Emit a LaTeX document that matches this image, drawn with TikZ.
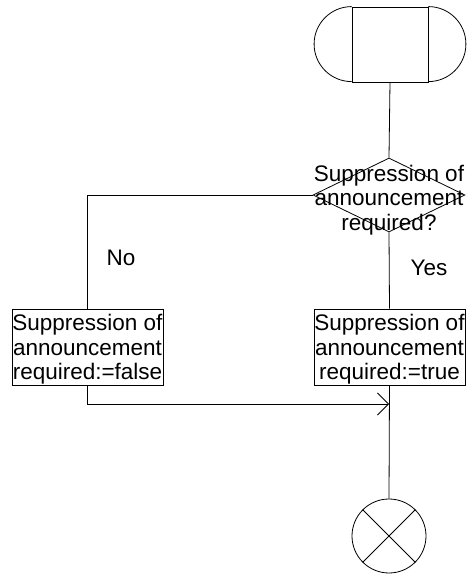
\documentclass[tikz,border=0pt]{standalone}
\usepackage{fontspec}
\setmainfont{Liberation Sans}
\usetikzlibrary{positioning,arrows.meta,shapes.geometric}

\begin{document}
\begin{tikzpicture}[x=1pt,y=1pt,line width=0.8pt,
  >={Straight Barb[length=11pt,width=22pt]},
  every node/.style={font=\fontsize{22.5}{24.5}\selectfont},
  action/.style={draw,minimum width=151pt,minimum height=76pt,inner sep=0pt,align=center,text depth=-5pt},
  decision/.style={draw,diamond,minimum width=152pt,minimum height=74pt,inner sep=0pt}]
\useasboundingbox (0,0) rectangle (473,576);
% start symbol
\node[draw,minimum width=76pt,minimum height=75pt,inner sep=0pt] (start) at (390,531.5) {};
\draw (start.north west) arc[start angle=90,end angle=270,radius=37.5pt];
\draw (start.north east) arc[start angle=90,end angle=-90,radius=37.5pt];
% decision
\node[decision] (query) at (389,381) {};
\node[align=center,yshift=-5pt] (querytext) at (query.center) {Suppression of\\announcement\\required?};
% actions
\node[action] (setfalse) at (87.5,229) {Suppression of\\announcement\\required:=false};
\node[action] (settrue) at (389.5,229) {Suppression of\\announcement\\required:=true};
% end symbol
\node[draw,circle,minimum size=74pt,inner sep=0pt] (stop) at (389,40) {};
\draw (stop.north west) -- (stop.south east);
\draw (stop.north east) -- (stop.south west);
\coordinate (merge) at (389,172);
% connectors
\draw (start.south) -- (query.north);
\draw (query.west) -| (setfalse.north);
\draw (query.south) -- (settrue.north);
\draw[->] (setfalse.south) |- (merge);
\draw (settrue.south) -- (stop.north);
\node (no) at (121,318) {No};
\node (yes) at (429,308) {Yes};
\end{tikzpicture}
\end{document}
